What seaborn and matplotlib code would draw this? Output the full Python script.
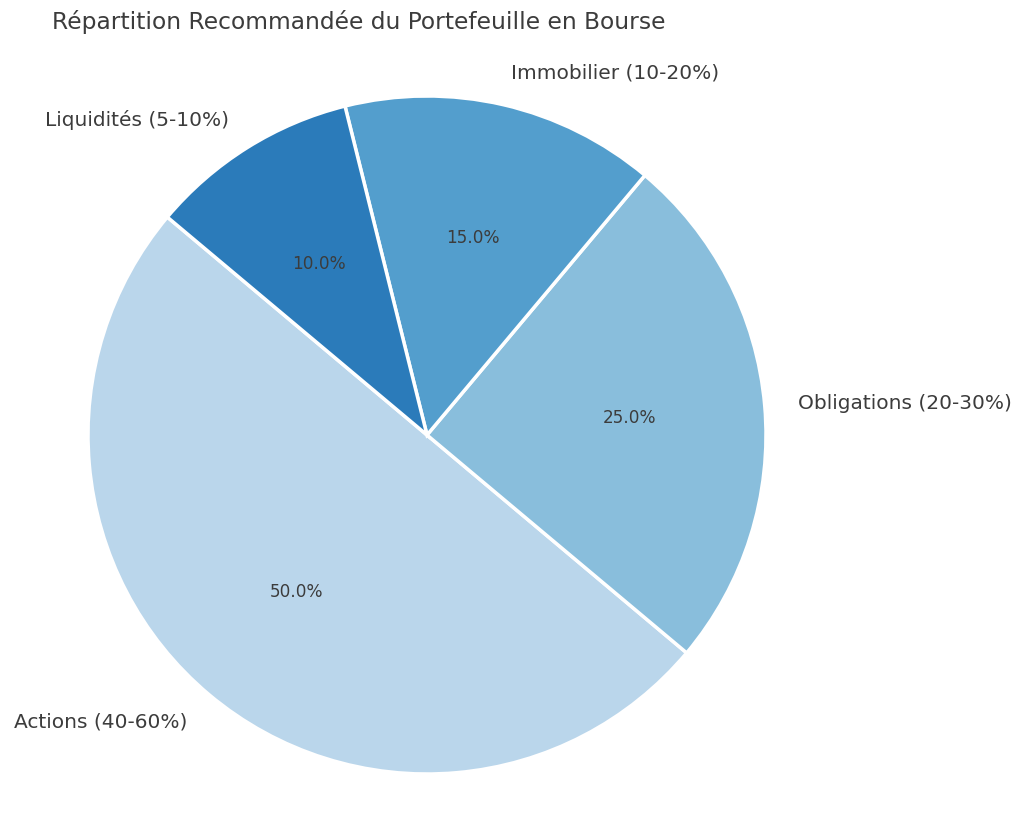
import matplotlib
matplotlib.use("Agg")
import matplotlib.pyplot as plt
import seaborn as sns

categories = ["Actions (40-60%)", "Obligations (20-30%)", "Immobilier (10-20%)", "Liquidités (5-10%)"]
values = [50, 25, 15, 10]
title = "Répartition Recommandée du Portefeuille en Bourse"

sns.set_theme(style="white")
plt.rcParams['font.family'] = ['DejaVu Sans']
text_color = "#3c3c3c"

colors = sns.color_palette("Blues")[1:5]

W, H = 1024, 820
fig = plt.figure(figsize=(W / 100, H / 100), dpi=100)
ax = fig.add_axes([0, 0, 1, 1])

wedges, texts, autotexts = ax.pie(
    values, labels=categories, colors=colors, autopct="%1.1f%%",
    startangle=140, wedgeprops=dict(edgecolor="white", linewidth=2.5),
    textprops=dict(color=text_color, fontsize=14.5),
)
for t in autotexts:
    t.set_fontsize(12.2)
    t.set_color(text_color)

cx, cy, r = 427, 436, 339
ax.set_aspect("auto")
ax.set_xlim(-cx / r, (W - cx) / r)
ax.set_ylim(-(H - cy) / r, cy / r)
ax.axis("off")

fig.text(52 / W, 1 - 22 / H, title, fontsize=16.8, color=text_color, ha="left", va="center")

fig.savefig("out.png", dpi=100, facecolor="white")
